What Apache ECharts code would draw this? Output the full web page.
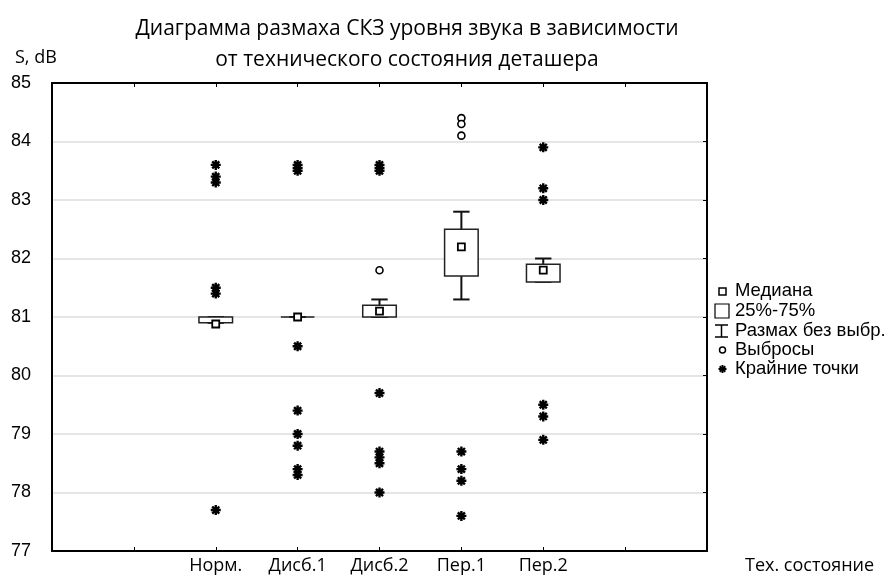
<!DOCTYPE html>
<html>
<head>
<meta charset="utf-8">
<script src="https://cdn.jsdelivr.net/npm/echarts@6/dist/echarts.min.js"></script>
<style>
  html, body { margin: 0; padding: 0; background: #fff; }
  #chart-panel { width: 894px; height: 577px; }
</style>
</head>
<body>
<div id="chart-panel"></div>
<script>
var chart = echarts.init(document.getElementById('chart-panel'));

// категории (тех. состояние), по оси X они стоят на позициях 2..6 из 0..8
var states = ['Норм.', 'Дисб.1', 'Дисб.2', 'Пер.1', 'Пер.2'];
var firstPos = 2;

// статистика ящиков
var q1 = [80.9, 81.0, 81.0, 81.7, 81.6];
var median = [80.88, 81.0, 81.1, 82.2, 81.8];
var q3 = [81.0, 81.0, 81.2, 82.5, 81.9];
var whiskerLow = [80.9, 81.0, 81.0, 81.3, 81.6];
var whiskerHigh = [81.0, 81.0, 81.3, 82.8, 82.0];

// выбросы (кружки)
var outliers = [
    [],
    [],
    [81.8],
    [84.4, 84.3, 84.1],
    []
];

// крайние точки (звездочки)
var extremes = [
    [83.6, 83.4, 83.3, 81.5, 81.4, 77.7],
    [83.6, 83.55, 83.5, 80.5, 79.4, 79.0, 78.8, 78.4, 78.3],
    [83.6, 83.55, 83.5, 79.7, 78.7, 78.6, 78.5, 78.0],
    [78.7, 78.4, 78.2, 77.6],
    [83.9, 83.2, 83.0, 79.5, 79.3, 78.9]
];

var yTicks = [77, 78, 79, 80, 81, 82, 83, 84, 85];

// звездочка - четыре перекрещенных полоски
var starPath = 'path://M-5,-1.2L5,-1.2L5,1.2L-5,1.2Z' +
    'M-1.2,-5L1.2,-5L1.2,5L-1.2,5Z' +
    'M-2.687,-4.385L4.385,2.687L2.687,4.385L-4.385,-2.687Z' +
    'M-4.385,2.687L2.687,-4.385L4.385,-2.687L-2.687,4.385Z';

var boxData = [], medianData = [], outlierData = [], extremeData = [];
for (var i = 0; i < states.length; i++) {
    var x = i + firstPos;
    boxData.push([x, whiskerLow[i], q1[i], q3[i], whiskerHigh[i]]);
    medianData.push([x, median[i]]);
    outliers[i].forEach(function(v) { outlierData.push([x, v]); });
    extremes[i].forEach(function(v) { extremeData.push([x, v]); });
}

function renderBox(params, api) {
    var x = api.value(0);
    var pLow = api.coord([x, api.value(1)]);
    var pQ1 = api.coord([x, api.value(2)]);
    var pQ3 = api.coord([x, api.value(3)]);
    var pHigh = api.coord([x, api.value(4)]);
    var boxW = api.size([0.41, 0])[0];
    var capW = api.size([0.2, 0])[0];
    var lineStyle = { stroke: '#111', lineWidth: 2, fill: null };
    var children = [];
    if (pHigh[1] < pQ3[1] - 0.5) {
        children.push({ type: 'line', shape: { x1: pQ3[0], y1: pQ3[1], x2: pHigh[0], y2: pHigh[1] }, style: lineStyle });
    }
    if (pLow[1] > pQ1[1] + 0.5) {
        children.push({ type: 'line', shape: { x1: pQ1[0], y1: pQ1[1], x2: pLow[0], y2: pLow[1] }, style: lineStyle });
    }
    children.push({ type: 'line', shape: { x1: pHigh[0] - capW / 2, y1: pHigh[1], x2: pHigh[0] + capW / 2, y2: pHigh[1] }, style: lineStyle });
    children.push({ type: 'line', shape: { x1: pLow[0] - capW / 2, y1: pLow[1], x2: pLow[0] + capW / 2, y2: pLow[1] }, style: lineStyle });
    children.push({
        type: 'rect',
        shape: { x: pQ3[0] - boxW / 2, y: pQ3[1], width: boxW, height: pQ1[1] - pQ3[1] },
        style: { fill: '#fff', stroke: '#222', lineWidth: 1.5 }
    });
    return { type: 'group', children: children };
}

// легенда справа
var legendFont = '18.5px "Liberation Sans", Arial, sans-serif';
var legendItems = [
    { y: 291, text: 'Медиана' },
    { y: 311, text: '25%-75%' },
    { y: 331, text: 'Размах без выбр.' },
    { y: 350, text: 'Выбросы' },
    { y: 369, text: 'Крайние точки' }
];

var graphics = legendItems.map(function(it) {
    return {
        type: 'text', x: 735, y: it.y,
        style: { text: it.text, font: legendFont, fill: '#000', verticalAlign: 'middle' }
    };
});
var ln = function(x1, y1, x2, y2, w) {
    return { type: 'line', shape: { x1: x1, y1: y1, x2: x2, y2: y2 }, style: { stroke: '#000', lineWidth: w } };
};
graphics.push(
    { type: 'rect', shape: { x: 719, y: 288, width: 7, height: 7 }, style: { fill: '#fff', stroke: '#000', lineWidth: 1.5 } },
    { type: 'rect', shape: { x: 715, y: 304, width: 14, height: 14 }, style: { fill: '#fff', stroke: '#000', lineWidth: 1.2 } },
    ln(715, 325, 728, 325, 1.5),
    ln(721.5, 325, 721.5, 337, 1.5),
    ln(715, 337, 728, 337, 1.5),
    { type: 'circle', shape: { cx: 722.5, cy: 350, r: 3 }, style: { fill: '#fff', stroke: '#000', lineWidth: 1.5 } },
    ln(718.5, 369, 726.5, 369, 2),
    ln(722.5, 365, 722.5, 373, 2),
    ln(719.7, 366.2, 725.3, 371.8, 2),
    ln(719.7, 371.8, 725.3, 366.2, 2)
);

var option = {
    backgroundColor: '#fff',
    animation: false,
    title: [{
        text: 'Диаграмма размаха СКЗ уровня звука в зависимости\nот технического состояния деташера',
        left: 402,
        top: 9,
        textAlign: 'center',
        textStyle: { fontFamily: 'Open Sans', fontSize: 21, fontWeight: 'normal', color: '#000', lineHeight: 31 }
    }, {
        text: 'S, dB',
        left: 10,
        top: 44,
        textStyle: { fontFamily: 'Open Sans', fontSize: 18, fontWeight: 'normal', color: '#000' }
    }],
    grid: { left: 52, right: 187, top: 83, bottom: 26 },
    xAxis: [{
        type: 'value',
        min: 0,
        max: 8,
        interval: 1,
        position: 'bottom',
        name: 'Тех. состояние',
        nameLocation: 'end',
        nameGap: 38,
        nameTextStyle: { fontFamily: 'Open Sans', fontSize: 18, color: '#000', verticalAlign: 'top', padding: [6, 0, 0, 0] },
        axisLine: { onZero: false, lineStyle: { color: '#000', width: 2 } },
        axisTick: { inside: true, length: 4, lineStyle: { color: '#000' } },
        axisLabel: {
            margin: 6,
            fontFamily: 'Open Sans',
            fontSize: 18,
            color: '#000',
            formatter: function(v) { return states[v - firstPos] || ''; }
        },
        splitLine: { show: false }
    }, {
        type: 'value',
        min: 0,
        max: 8,
        interval: 1,
        position: 'top',
        axisLine: { onZero: false, lineStyle: { color: '#000', width: 2 } },
        axisTick: { inside: true, length: 4, lineStyle: { color: '#000' } },
        axisLabel: { show: false },
        splitLine: { show: false }
    }],
    yAxis: [{
        type: 'value',
        min: yTicks[0],
        max: yTicks[yTicks.length - 1],
        interval: 1,
        axisLine: { show: true, onZero: false, lineStyle: { color: '#000', width: 2 } },
        axisTick: { show: false },
        axisLabel: { margin: 21, fontFamily: 'Liberation Sans', fontSize: 18, color: '#000' },
        splitLine: { show: true, lineStyle: { color: '#dcdcdc', width: 1.5 } }
    }, {
        type: 'value',
        min: yTicks[0],
        max: yTicks[yTicks.length - 1],
        interval: 1,
        position: 'right',
        axisLine: { show: true, onZero: false, lineStyle: { color: '#000', width: 2 } },
        axisTick: { show: true, inside: true, length: 4, lineStyle: { color: '#000' } },
        axisLabel: { show: false },
        splitLine: { show: false }
    }],
    series: [{
        name: '25%-75%',
        type: 'custom',
        renderItem: renderBox,
        encode: { x: 0, y: [1, 2, 3, 4] },
        data: boxData,
        z: 2
    }, {
        name: 'Медиана',
        type: 'scatter',
        symbol: 'rect',
        symbolSize: 7,
        itemStyle: { color: '#fff', borderColor: '#000', borderWidth: 1.8, opacity: 1 },
        data: medianData,
        z: 3
    }, {
        name: 'Выбросы',
        type: 'scatter',
        symbol: 'circle',
        symbolSize: 7,
        itemStyle: { color: '#fff', borderColor: '#000', borderWidth: 1.6, opacity: 1 },
        data: outlierData,
        z: 3
    }, {
        name: 'Крайние точки',
        type: 'scatter',
        symbol: starPath,
        symbolSize: 10,
        itemStyle: { color: '#000', opacity: 1 },
        data: extremeData,
        z: 3
    }],
    graphic: graphics
};

chart.setOption(option);
</script>
</body>
</html>
